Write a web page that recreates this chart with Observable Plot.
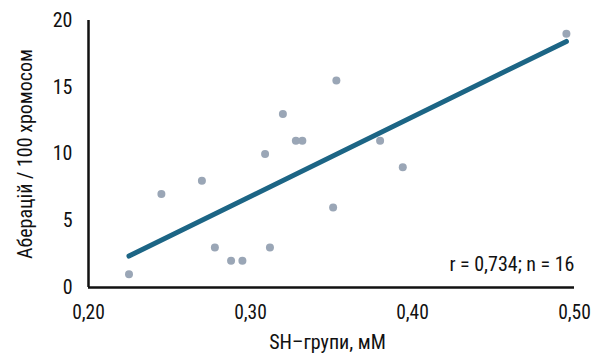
<!DOCTYPE html>
<html><head><meta charset="utf-8">
<script src="https://cdn.jsdelivr.net/npm/d3@7"></script>
<script src="https://cdn.jsdelivr.net/npm/@observablehq/plot@0.6"></script>
<style>
body{margin:0;background:#fff;}
svg{font-family:"Roboto Condensed",Roboto,sans-serif;font-weight:400;}
</style></head><body>
<div id="chart"></div>
<script>
const shGroups = [0.225,0.245,0.270,0.278,0.288,0.295,0.312,0.320,0.309,0.328,0.332,0.353,0.380,0.394,0.495,0.351];
const aberrations = [1,7,8,3,2,2,3,13,10,11,11,15.5,11,9,19,6];
const xTicks = [0.2,0.3,0.4,0.5];
const yTicks = [0,5,10,15,20];
const annotation = "r = 0,734; n = 16";
const data = shGroups.map((x,i)=>({x, y: aberrations[i]}));
const fmt = d => d.toFixed(2).replace(".", ",");
const chart = Plot.plot({
  width: 591, height: 355,
  marginLeft: 88, marginRight: 17, marginTop: 20, marginBottom: 68,
  style:{background:"#fff", color:"#111"},
  x:{domain:[0.2,0.5], label:null},
  y:{domain:[0,20], label:null},
  marks:[
    Plot.axisX({ticks:xTicks, tickFormat:fmt, tickSize:0, tickPadding:18, fontSize:19.5, label:null}),
    Plot.axisY({ticks:yTicks, tickSize:0, tickPadding:16, fontSize:20, label:null}),
    Plot.ruleX([0.2], {stroke:"#111", strokeWidth:2.5}),
    Plot.ruleY([0], {stroke:"#111", strokeWidth:2.5}),
    Plot.dot(data, {x:"x", y:"y", r:4, fill:"#9aa6b6", stroke:"none"}),
    Plot.linearRegressionY(data, {x:"x", y:"y", ci:0, stroke:"#1c6585", strokeWidth:5}),
    Plot.text([annotation], {frameAnchor:"bottom-right", dx:0, dy:-17, fontSize:20, fill:"#111"}),
    Plot.text(["SH–групи, мМ"], {frameAnchor:"bottom", dy:61, dx:-4, fontSize:20, fill:"#111"}),
    Plot.text(["Аберацій / 100 хромосом"], {frameAnchor:"left", textAnchor:"middle", dx:-63, dy:0, rotate:-90, fontSize:20, fill:"#111"})
  ]
});
document.getElementById("chart").appendChild(chart);
</script>
</body></html>
